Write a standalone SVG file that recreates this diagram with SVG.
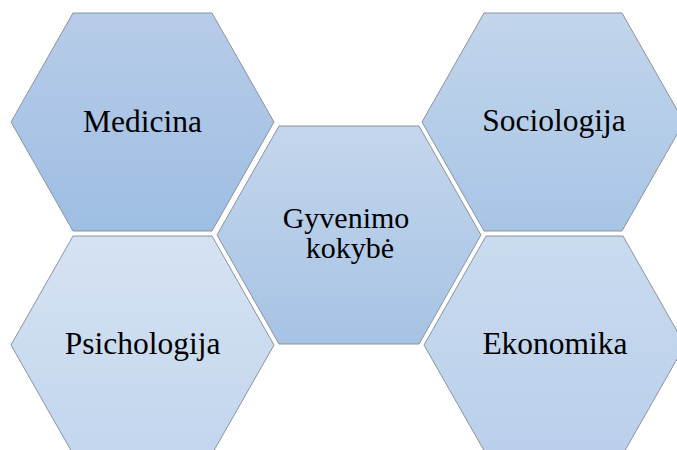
<svg xmlns="http://www.w3.org/2000/svg" width="677" height="450" viewBox="0 0 677 450">
<defs>
<linearGradient id="gMed" x1="0" y1="0" x2="0" y2="1"><stop offset="0" stop-color="#b7cce8"/><stop offset="1" stop-color="#9ebee3"/></linearGradient>
<linearGradient id="gCen" x1="0" y1="0" x2="0" y2="1"><stop offset="0" stop-color="#c4d6ec"/><stop offset="1" stop-color="#a6c3e4"/></linearGradient>
<linearGradient id="gSoc" x1="0" y1="0" x2="0" y2="1"><stop offset="0" stop-color="#c2d5eb"/><stop offset="1" stop-color="#a8c5e6"/></linearGradient>
<linearGradient id="gPsi" x1="0" y1="0" x2="0" y2="1"><stop offset="0" stop-color="#d5e2f2"/><stop offset="1" stop-color="#c3d6ee"/></linearGradient>
<linearGradient id="gEko" x1="0" y1="0" x2="0" y2="1"><stop offset="0" stop-color="#cadbef"/><stop offset="1" stop-color="#b9cfeb"/></linearGradient>
</defs>
<style>
.hex{stroke:#8a949e;stroke-width:1}
.lbl{font-family:'Liberation Serif','Times New Roman',serif;font-size:31.5px;fill:#000;text-anchor:middle}
.cen{font-size:30px}
</style>
<rect width="677" height="450" fill="#ffffff"/>
<g id="medicina">
<polygon class="hex" fill="url(#gMed)" points="11,122 73,13 212,13 274,122 212,231 73,231"/>
<text class="lbl" x="142.5" y="132">Medicina</text>
</g>
<g id="psichologija">
<polygon class="hex" fill="url(#gPsi)" points="11,345 73,236 212,236 274,345 212,454 73,454"/>
<text class="lbl" x="142.5" y="354">Psichologija</text>
</g>
<g id="gyvenimo-kokybe">
<polygon class="hex" fill="url(#gCen)" points="217,235 279,126 419,126 481,235 419,344 279,344"/>
<text class="lbl cen" x="346" y="228">Gyvenimo</text>
<text class="lbl cen" x="350" y="258">kokybė</text>
</g>
<g id="sociologija">
<polygon class="hex" fill="url(#gSoc)" points="422,122 484,13 622,13 684,122 622,231 484,231"/>
<text class="lbl" x="554" y="131">Sociologija</text>
</g>
<g id="ekonomika">
<polygon class="hex" fill="url(#gEko)" points="424,345 486,236 623,236 685,345 623,454 486,454"/>
<text class="lbl" x="555" y="354">Ekonomika</text>
</g>
<g id="connectors"></g>
</svg>
